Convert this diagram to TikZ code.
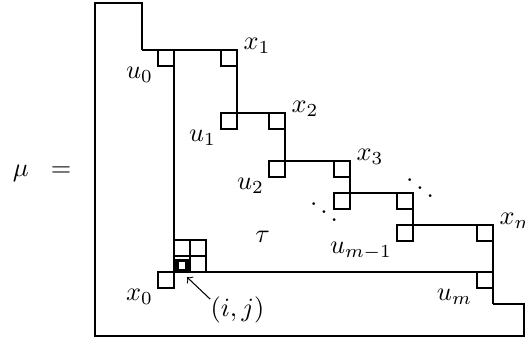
\documentclass[tikz,border=0pt]{standalone}
\usetikzlibrary{positioning}

\tikzset{every node/.style={inner sep=1pt}}
\tikzset{cellbox/.style={draw=black, line width=0.7pt, minimum size=6.08pt, inner sep=0pt, outer sep=0pt}}
\tikzset{xlab/.style={anchor=west, xshift=1.3pt, yshift=1.7pt}}
\tikzset{ulab/.style={anchor=north east, xshift=-0.7pt, yshift=0.7pt}}
\tikzset{rim/.style={draw=black, line width=0.75pt}}
\tikzset{outline/.style={draw=black, line width=1pt}}

\begin{document}
\begin{tikzpicture}[x=0.38pt, y=-0.38pt]
  \useasboundingbox (0,0) rectangle (525,339);

  % corners
  \coordinate (TL) at (95,3);
  \coordinate (TR) at (142,3);
  \coordinate (T) at (142,50);
  \coordinate (BL) at (95,336);
  \coordinate (BR) at (524,336);
  \coordinate (R) at (524,304);
  \coordinate (RR) at (493,304);
  \coordinate (X0) at (174,272);
  \coordinate (U0) at (174,50);
  \coordinate (X1) at (237,50);
  \coordinate (U1) at (237,113);
  \coordinate (X2) at (285,113);
  \coordinate (U2) at (285,161);
  \coordinate (X3) at (350,161);
  \coordinate (C1) at (350,193);
  \coordinate (C2) at (413,193);
  \coordinate (Um1) at (413,225);
  \coordinate (Xm) at (493,225);
  \coordinate (Um) at (493,272);

  % mu
  \draw[outline] (T) -- (TR) -- (TL) -- (BL) -- (BR) -- (R) -- (RR);
  \draw[rim] (T) -- (X1) -- (U1) -- (X2) -- (U2) -- (X3) -- (C1) -- (C2) -- (Um1) -- (Xm) -- (RR);
  \draw[rim] (U0) -- (X0) -- (Um);

  % cells at the corners
  \node (cu0) [cellbox, anchor=north east] at (U0) {};
  \node (cx1) [cellbox, anchor=north east] at (X1) {};
  \node (cu1) [cellbox, anchor=north east] at (U1) {};
  \node (cx2) [cellbox, anchor=north east] at (X2) {};
  \node (cu2) [cellbox, anchor=north east] at (U2) {};
  \node (cx3) [cellbox, anchor=north east] at (X3) {};
  \node (cc1) [cellbox, anchor=north east] at (C1) {};
  \node (cc2) [cellbox, anchor=north east] at (C2) {};
  \node (cum1) [cellbox, anchor=north east] at (Um1) {};
  \node (cxm) [cellbox, anchor=north east] at (Xm) {};
  \node (cum) [cellbox, anchor=north east] at (Um) {};
  \node (cx0) [cellbox, anchor=north east] at (X0) {};

  % cells round (i,j)
  \node (g1) [cellbox, anchor=south west] at (X0) {};
  \node (g2) [cellbox, right=0pt of g1] {};
  \node (g3) [cellbox, above=0pt of g1] {};
  \node (g4) [cellbox, above=0pt of g2] {};
  \node (ij) [draw, line width=1.2pt, minimum size=3.8pt, inner sep=0pt, outer sep=0pt, yshift=-0.5pt] at (g1) {};

  % labels
  \node (lx1) [xlab] at (X1) {$x_1$};
  \node (lx2) [xlab] at (X2) {$x_2$};
  \node (lx3) [xlab] at (X3) {$x_3$};
  \node (lxm) [xlab] at (Xm) {$x_m$};
  \node (lu0) [ulab] at (cu0.south west) {$u_0$};
  \node (lu1) [ulab] at (cu1.south west) {$u_1$};
  \node (lu2) [ulab] at (cu2.south west) {$u_2$};
  \node (lum1) [ulab] at (cum1.south west) {$u_{m-1}$};
  \node (lum) [ulab] at (cum.south west) {$u_m$};
  \node (lx0) [ulab] at (cx0.south west) {$x_0$};
  \node (dd1) [anchor=base] at (324,224) {$\ddots$};
  \node (dd2) [anchor=base] at (420,200) {$\ddots$};
  \node (tau) [anchor=base] at (262.5,243) {$\tau$};
  \node (lij) [anchor=base] at (237.5,316.5) {$(i,j)$};
  \node (mu) [anchor=base] at (20.8,177) {$\mu$};
  \node (eq) [anchor=base] at (61,177) {$=$};

  \draw[->] ([shift={(1pt,-2.1pt)}]lij.north west) -- ([shift={(0pt,-2.6pt)}]ij.south east);
\end{tikzpicture}
\end{document}
